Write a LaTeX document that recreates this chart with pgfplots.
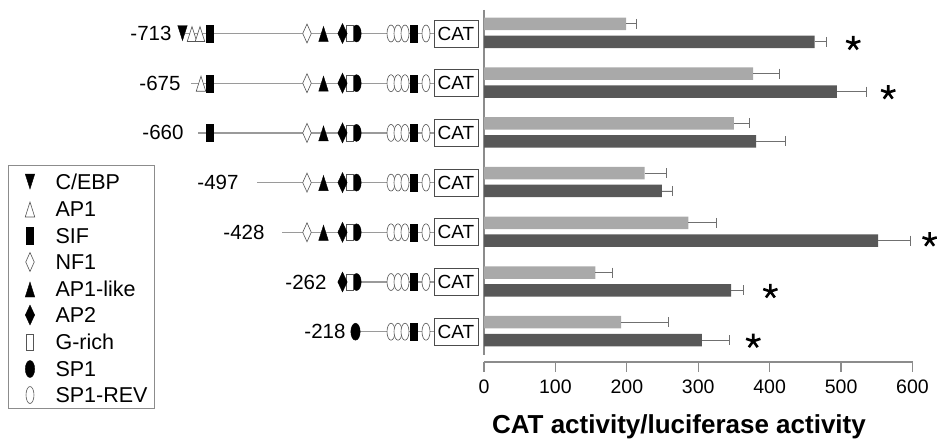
\documentclass[border=0pt]{standalone}
\usepackage{pgfplots}
\pgfplotsset{compat=1.18}
\usepackage{fontspec}
\setmainfont{Liberation Sans}
\definecolor{lightbar}{HTML}{A9A9A9}
\definecolor{darkbar}{HTML}{585858}
\definecolor{axisgray}{HTML}{8C8C8C}
\definecolor{errgray}{HTML}{707070}
\definecolor{linegray}{HTML}{9A9A9A}
\definecolor{shapeedge}{HTML}{555555}
\pgfplotsset{
  sprev/.style={only marks, mark=*, mark size=8.5pt, mark options={xscale=0.47, fill=white, draw=shapeedge, line width=0.6pt}},
  spone/.style={only marks, mark=*, mark size=8.5pt, mark options={xscale=0.55, fill=black, draw=black}},
  sif/.style={only marks, mark=square*, mark size=8.5pt, mark options={xscale=0.41, fill=black, draw=black}},
  grich/.style={only marks, mark=square*, mark size=8pt, mark options={xscale=0.42, fill=white, draw=shapeedge, line width=0.6pt}},
  nfone/.style={only marks, mark=diamond*, mark size=9.5pt, mark options={xscale=0.6, fill=white, draw=shapeedge, line width=0.6pt}},
  aptwo/.style={only marks, mark=diamond*, mark size=10pt, mark options={xscale=0.62, fill=black, draw=black}},
  aplike/.style={only marks, mark=triangle*, mark size=10pt, mark options={xscale=0.55, fill=black, draw=black}},
  apone/.style={only marks, mark=triangle*, mark size=10pt, mark options={xscale=0.55, fill=white, draw=shapeedge, line width=0.6pt}},
  cebp/.style={only marks, mark=triangle*, mark size=10pt, mark options={xscale=0.55, rotate=180, fill=black, draw=black}},
  rowline/.style={draw=linegray, line width=1.2pt, mark=none},
}
\tikzset{
  catbox/.style={draw=black!70, line width=1pt, fill=white, minimum width=44pt, minimum height=27pt, inner sep=0pt, font=\fontsize{19}{22}\selectfont},
  rowlab/.style={anchor=east, font=\fontsize{20.5}{24}\selectfont},
  keylab/.style={anchor=west, font=\fontsize{21.5}{25}\selectfont},
}
\begin{document}
\begin{tikzpicture}
\useasboundingbox (0pt,0pt) rectangle (937pt,439pt);
% ---------- construct diagrams and key (pixel-like coordinates) ----------
\begin{axis}[at={(0pt,0pt)}, anchor=south west, scale only axis,
  width=937pt, height=439pt, xmin=0, xmax=937, ymin=0, ymax=439,
  y dir=reverse, hide axis, clip=false]
% row lines
\addplot[rowline] coordinates {(185,33.5) (434,33.5)};
\addplot[rowline] coordinates {(191,83.2) (434,83.2)};
\addplot[rowline] coordinates {(198,132.9) (434,132.9)};
\addplot[rowline] coordinates {(257,182.6) (434,182.6)};
\addplot[rowline] coordinates {(282,232.3) (434,232.3)};
\addplot[rowline] coordinates {(338,282) (434,282)};
\addplot[rowline] coordinates {(352,331.7) (434,331.7)};
% SP1
\addplot[spone] coordinates {(356.5,33.5) (356.5,83.2) (356.5,132.9) (356.5,182.6) (356.5,232.3) (356.5,282) (355.5,331.7)};
% G-rich
\addplot[grich] coordinates {(349.5,33.5) (349.5,83.2) (349.5,132.9) (349.5,182.6) (349.5,232.3) (349.5,282)};
% AP2
\addplot[aptwo] coordinates {(342.5,33.5) (342.5,83.2) (342.5,132.9) (342.5,182.6) (342.5,232.3) (342.5,282)};
% AP1-like
\addplot[aplike] coordinates {(323.5,36.5) (323.5,86.2) (323.5,135.9) (323.5,185.6) (323.5,235.3)};
% NF1
\addplot[nfone] coordinates {(307,33.5) (307,83.2) (307,132.9) (307,182.6) (307,232.3)};
% SP1-REV (first three)
\addplot[sprev] coordinates {(391,33.5) (391,83.2) (391,132.9) (391,182.6) (391,232.3) (391,282) (391,331.7)};
\addplot[sprev] coordinates {(398,33.5) (398,83.2) (398,132.9) (398,182.6) (398,232.3) (398,282) (398,331.7)};
\addplot[sprev] coordinates {(405,33.5) (405,83.2) (405,132.9) (405,182.6) (405,232.3) (405,282) (405,331.7)};
% SIF
\addplot[sif] coordinates {(414,33.5) (414,83.2) (414,132.9) (414,182.6) (414,232.3) (414,282) (414,331.7) (210,33.5) (210,83.2) (210,132.9)};
% SP1-REV (last)
\addplot[sprev] coordinates {(426,33.5) (426,83.2) (426,132.9) (426,182.6) (426,232.3) (426,282) (426,331.7)};
% AP1
\addplot[apone] coordinates {(192,36.5) (200,36.5) (201,86.2)};
% C/EBP
\addplot[cebp] coordinates {(182.5,30.5)};
% CAT boxes
\node[catbox] at (axis cs:456,33.5) {CAT};
\node[catbox] at (axis cs:456,83.2) {CAT};
\node[catbox] at (axis cs:456,132.9) {CAT};
\node[catbox] at (axis cs:456,182.6) {CAT};
\node[catbox] at (axis cs:456,232.3) {CAT};
\node[catbox] at (axis cs:456,282) {CAT};
\node[catbox] at (axis cs:456,331.7) {CAT};
% row labels
\node[rowlab] at (axis cs:175,33.5) {-713};
\node[rowlab] at (axis cs:184,83.2) {-675};
\node[rowlab] at (axis cs:187,132.9) {-660};
\node[rowlab] at (axis cs:242,182.6) {-497};
\node[rowlab] at (axis cs:268,232.3) {-428};
\node[rowlab] at (axis cs:330,282) {-262};
\node[rowlab] at (axis cs:349,331.7) {-218};
% key box
\addplot[draw=axisgray, line width=1pt, mark=none] coordinates {(8,165) (154,165) (154,408) (8,408) (8,165)};
\addplot[cebp] coordinates {(30,179)};
\addplot[apone] coordinates {(30,212)};
\addplot[sif] coordinates {(30,236)};
\addplot[nfone] coordinates {(30,262)};
\addplot[aplike] coordinates {(30,292)};
\addplot[aptwo] coordinates {(30,315)};
\addplot[grich] coordinates {(30,342)};
\addplot[spone] coordinates {(30,369)};
\addplot[sprev] coordinates {(30,395)};
\node[keylab] at (axis cs:52,182) {C/EBP};
\node[keylab] at (axis cs:52,209) {AP1};
\node[keylab] at (axis cs:52,236) {SIF};
\node[keylab] at (axis cs:52,262) {NF1};
\node[keylab] at (axis cs:52,289) {AP1-like};
\node[keylab] at (axis cs:52,315) {AP2};
\node[keylab] at (axis cs:52,342) {G-rich};
\node[keylab] at (axis cs:52,369) {SP1};
\node[keylab] at (axis cs:52,395) {SP1-REV};
\end{axis}
% ---------- bar chart ----------
\begin{axis}[at={(484pt,77pt)}, anchor=south west, scale only axis,
  width=428.5pt, height=352pt,
  xmin=0, xmax=600, ymin=-6.62, ymax=0.46,
  axis x line*=bottom, axis y line=none,
  x axis line style={draw=axisgray, line width=1.3pt, -},
  xtick={0,100,200,300,400,500,600}, ytick=\empty,
  tick align=outside, major tick length=10pt,
  tick style={draw=axisgray, line width=1.3pt},
  xticklabel style={font=\fontsize{19.5}{22}\selectfont, black, yshift=-4pt},
  /pgf/number format/assume math mode=true,
  xlabel={\textbf{CAT activity/luciferase activity}},
  xlabel style={at={(axis description cs:0.455,-0.185)}, anchor=center, font=\fontsize{26}{30}\selectfont},
  clip=false]
\addplot[draw=axisgray, line width=1.3pt, mark=none] coordinates {(0,0.46) (0,-6.47)};
\addplot[xbar, bar width=12.5pt, bar shift=0pt, fill=lightbar, draw=none,
  error bars/.cd, x dir=plus, x explicit,
  error bar style={draw=errgray, line width=0.9pt},
  error mark options={rotate=90, draw=errgray, mark size=5pt, line width=0.9pt}]
  coordinates {(199,0.18) +- (14,0) (377,-0.82) +- (37,0) (350,-1.82) +- (22,0) (225,-2.82) +- (31,0)
               (286,-3.82) +- (39,0) (156,-4.82) +- (24,0) (192,-5.82) +- (66,0)};
\addplot[xbar, bar width=12.5pt, bar shift=0pt, fill=darkbar, draw=none,
  error bars/.cd, x dir=plus, x explicit,
  error bar style={draw=errgray, line width=0.9pt},
  error mark options={rotate=90, draw=errgray, mark size=5pt, line width=0.9pt}]
  coordinates {(463,-0.18) +- (17,0) (494,-1.18) +- (41,0) (381,-2.18) +- (41,0) (249,-3.18) +- (15,0)
               (552,-4.18) +- (45,0) (346,-5.18) +- (17,0) (305,-6.18) +- (39,0)};
\addplot[only marks, mark=star, mark size=7.5pt, mark options={line width=2.6pt, draw=black}]
  coordinates {(517,-0.21) (566,-1.2) (624,-4.16) (401,-5.2) (377,-6.2)};
\end{axis}
\end{tikzpicture}
\end{document}
